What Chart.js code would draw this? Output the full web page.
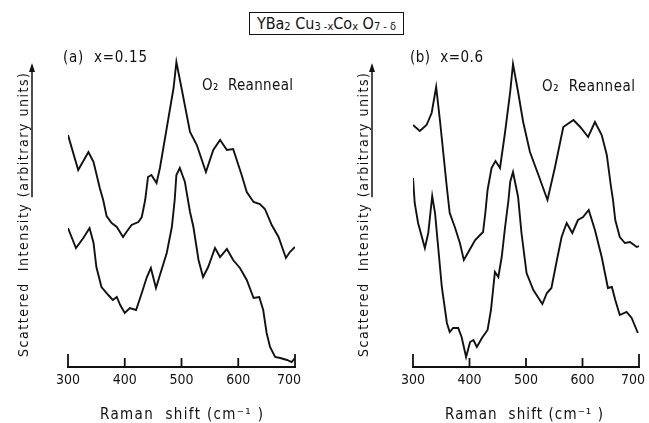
<!DOCTYPE html>
<html>
<head>
<meta charset="utf-8">
<script src="https://cdn.jsdelivr.net/npm/chart.js@4"></script>
<style>
  html, body { margin: 0; padding: 0; background: #fff; overflow: hidden; }
  body { width: 649px; height: 423px; position: relative; font-family: "DejaVu Sans Condensed", "DejaVu Sans", sans-serif; color: #111; }
  .panel { position: absolute; top: 0; height: 423px; }
  #panelA { left: 0; width: 320px; }
  #panelB { left: 320px; width: 329px; }
  #formula { position: absolute; left: 249px; top: 12px; width: 153px; height: 21px; border: 1.5px solid #111;
             font-size: 16px; line-height: 22px; text-align: center; white-space: nowrap; }
  #formula sub { font-size: 11px; vertical-align: -1px; }
</style>
</head>
<body>
<div id="formula">YBa<sub>2</sub> Cu<sub>3 -x</sub>Co<sub>x</sub> O<sub>7 - δ</sub></div>
<div class="panel" id="panelA"><canvas id="chartA"></canvas></div>
<div class="panel" id="panelB"><canvas id="chartB"></canvas></div>
<script>
// Raman shift (cm-1) and intensity (arbitrary units) for each trace
const aUpperShift = [300, 318, 336, 345, 356, 362, 368, 377, 386, 397, 403, 412, 424, 430, 436, 441, 447, 456, 462, 474, 486, 491, 500, 515, 527, 543, 556, 568, 580, 591, 606, 615, 627, 638, 647, 659, 671, 684, 691, 700];
const aUpperInt   = [232, 197, 215, 205, 179, 167, 151, 144, 140, 130, 135, 142, 145, 150, 167, 190, 192, 184, 199, 239, 279, 305, 279, 235, 222, 195, 217, 227, 217, 218, 192, 175, 165, 163, 158, 142, 130, 109, 115, 120];

const aLowerShift = [300, 314, 327, 338, 345, 350, 359, 371, 379, 386, 392, 400, 409, 420, 430, 439, 446, 455, 462, 474, 483, 488, 491, 497, 506, 515, 521, 530, 538, 547, 559, 568, 580, 591, 603, 615, 627, 637, 644, 650, 656, 665, 674, 686, 694, 700];
const aLowerInt   = [139, 119, 129, 139, 124, 100, 80, 72, 67, 70, 62, 54, 59, 57, 74, 90, 99, 79, 92, 114, 140, 167, 192, 199, 185, 155, 140, 107, 90, 100, 119, 110, 118, 107, 99, 87, 69, 70, 57, 34, 20, 10, 9, 7, 5, 9];

const bUpperShift = [300, 312, 324, 333, 341, 348, 354, 360, 365, 374, 383, 390, 398, 410, 424, 428, 432, 439, 446, 454, 463, 472, 477, 486, 495, 507, 522, 538, 551, 566, 584, 596, 610, 622, 634, 643, 650, 654, 658, 666, 675, 684, 696, 700];
const bUpperInt   = [242, 236, 242, 254, 280, 245, 212, 179, 154, 140, 124, 107, 115, 127, 135, 154, 177, 199, 206, 199, 235, 275, 303, 275, 245, 215, 192, 167, 199, 240, 247, 240, 230, 245, 232, 212, 182, 167, 147, 130, 124, 125, 120, 121];

const bLowerShift = [300, 303, 309, 321, 327, 334, 339, 345, 351, 360, 365, 371, 380, 386, 394, 401, 407, 413, 422, 432, 438, 445, 451, 457, 463, 469, 472, 477, 486, 492, 501, 513, 529, 537, 545, 554, 563, 572, 582, 592, 601, 611, 622, 634, 645, 652, 658, 666, 678, 687, 698];
const bLowerInt   = [189, 164, 144, 119, 134, 171, 154, 117, 80, 44, 35, 39, 39, 30, 10, 25, 27, 20, 29, 37, 57, 95, 90, 110, 140, 167, 185, 195, 170, 134, 94, 77, 63, 74, 79, 105, 130, 144, 134, 147, 150, 157, 137, 110, 79, 80, 67, 52, 55, 49, 34];

const xTicks = [300, 400, 500, 600, 700];

const ink = '#111';
const fontFamily = '"DejaVu Sans Condensed", "DejaVu Sans", sans-serif';
Chart.defaults.font.family = fontFamily;
Chart.defaults.color = ink;

function toPoints(xs, ys) {
  return xs.map((x, i) => ({ x: x, y: ys[i] }));
}

// writes text stretched by letter spacing to a given width
function spacedText(ctx, text, x, y, width) {
  ctx.letterSpacing = '0px';
  const w = ctx.measureText(text).width;
  const ls = (width - w) / Math.max(1, text.length - 1);
  ctx.letterSpacing = ls + 'px';
  ctx.fillText(text, x, y);
  ctx.letterSpacing = '0px';
  return ls;
}

// inward tick marks and their labels, panel captions, axis titles and the y-label arrow
const figureDecor = {
  id: 'figureDecor',
  afterDraw(chart, args, o) {
    const ctx = chart.ctx;
    const xs = chart.scales.x;
    const bottom = chart.chartArea.bottom;
    ctx.save();
    ctx.strokeStyle = ink;
    ctx.fillStyle = ink;
    ctx.lineWidth = 1.8;
    ctx.font = '14px ' + fontFamily;
    ctx.textAlign = 'center';
    ctx.textBaseline = 'middle';
    xTicks.forEach((v, i) => {
      const px = xs.getPixelForValue(v);
      const last = i === xTicks.length - 1;
      const len = (i === 0 || last) ? 13 : 9;
      ctx.beginPath();
      ctx.moveTo(px, bottom + 1);
      ctx.lineTo(px, bottom - len);
      ctx.stroke();
      ctx.fillText(String(v), last ? px - 6 : px, bottom + 13);
    });

    ctx.textAlign = 'left';
    ctx.textBaseline = 'alphabetic';
    ctx.font = '15px ' + fontFamily;
    spacedText(ctx, o.caption, o.captionX, o.captionY, o.captionW);
    spacedText(ctx, 'O₂  Reanneal', o.noteX, o.noteY, o.noteW);
    spacedText(ctx, 'Raman  shift (cm⁻¹ )', o.titleX, o.titleY, o.titleW);

    // rotated y label with its arrow underline
    ctx.translate(o.yLabelX, o.yLabelBottom);
    ctx.rotate(-Math.PI / 2);
    ctx.font = '14px ' + fontFamily;
    const lead = 'Scattered  Intensity ';
    const tail = '(arbitrary units)';
    const ls = spacedText(ctx, lead + tail, 0, 0, o.yLabelBottom - o.yLabelTop);
    ctx.letterSpacing = ls + 'px';
    const start = ctx.measureText(lead).width;
    ctx.letterSpacing = '0px';
    const tip = o.yLabelBottom - o.arrowTip;
    const off = o.arrowX - o.yLabelX;
    ctx.lineWidth = 1.5;
    ctx.beginPath();
    ctx.moveTo(start, off);
    ctx.lineTo(tip - 6, off);
    ctx.stroke();
    ctx.beginPath();
    ctx.moveTo(tip, off);
    ctx.lineTo(tip - 9, off - 3);
    ctx.lineTo(tip - 9, off + 3);
    ctx.closePath();
    ctx.fill();
    ctx.restore();
  }
};

function makePanel(id, upper, lower, pad, decor) {
  return new Chart(document.getElementById(id), {
    type: 'line',
    data: {
      datasets: [upper, lower].map(d => ({
        data: d,
        borderColor: ink,
        borderWidth: 1.9,
        pointRadius: 0,
        tension: 0,
        fill: false
      }))
    },
    options: {
      responsive: true,
      maintainAspectRatio: false,
      animation: false,
      layout: { padding: pad },
      plugins: {
        legend: { display: false },
        tooltip: { enabled: false },
        figureDecor: decor
      },
      scales: {
        x: {
          type: 'linear',
          min: 300,
          max: 700,
          afterBuildTicks: axis => { axis.ticks = xTicks.map(v => ({ value: v })); },
          grid: { display: false, drawTicks: false, tickLength: 0 },
          border: { display: true, color: ink, width: 2 },
          ticks: { display: false }
        },
        y: { display: false, min: 0, max: 312 }
      }
    },
    plugins: [figureDecor]
  });
}

makePanel('chartA',
  toPoints(aUpperShift, aUpperInt),
  toPoints(aLowerShift, aLowerInt),
  { left: 68, right: 25, top: 55, bottom: 56 },
  { caption: '(a)  x=0.15', captionX: 63, captionY: 62, captionW: 84,
    noteX: 202, noteY: 90, noteW: 91,
    titleX: 100, titleY: 419, titleW: 163,
    yLabelX: 28, yLabelBottom: 357, yLabelTop: 73, arrowX: 32, arrowTip: 63 });

makePanel('chartB',
  toPoints(bUpperShift, bUpperInt),
  toPoints(bLowerShift, bLowerInt),
  { left: 93, right: 10, top: 55, bottom: 56 },
  { caption: '(b)  x=0.6', captionX: 90, captionY: 62, captionW: 73,
    noteX: 222, noteY: 91, noteW: 93,
    titleX: 125, titleY: 419, titleW: 158,
    yLabelX: 48, yLabelBottom: 357, yLabelTop: 73, arrowX: 52, arrowTip: 63 });
</script>
</body>
</html>
